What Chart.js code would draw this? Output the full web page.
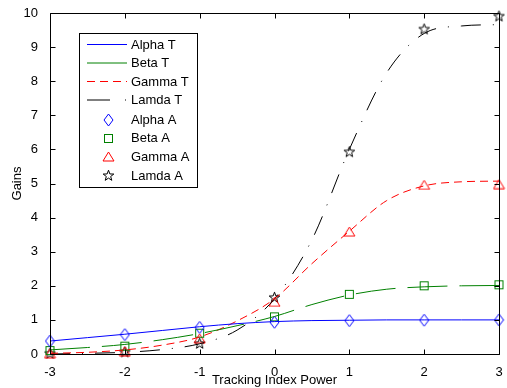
<!DOCTYPE html>
<html><head><meta charset="utf-8">
<script src="https://cdn.jsdelivr.net/npm/chart.js@4/dist/chart.umd.min.js"></script>
<style>html,body{margin:0;padding:0;background:#fff}#w{width:507px;height:388px}</style>
</head><body><div id="w"><canvas id="c" width="507" height="388"></canvas></div>
<script>
// ---- data ----
const tX = [-3,-2.5,-2,-1.5,-1,-0.5,0,0.5,1,1.5,2,2.5,3];
const alphaT = [0.38,0.48,0.58,0.69,0.80,0.89,0.95,0.98,0.99,1.00,1.00,1.00,1.00];
const betaT  = [0.12,0.19,0.28,0.42,0.60,0.83,1.10,1.45,1.73,1.90,1.97,2.00,2.01];
const gammaT = [0.02,0.05,0.12,0.26,0.50,0.97,1.62,2.65,3.60,4.50,4.93,5.05,5.07];
const lamdaT = [0.00,0.02,0.05,0.13,0.30,0.70,1.62,3.35,6.00,8.25,9.40,9.62,9.66];
const aX = [-3,-2,-1,0,1,2,3];
const alphaA = [0.38,0.57,0.78,0.93,0.98,0.99,1.00];
const betaA  = [0.10,0.23,0.61,1.09,1.75,2.00,2.03];
const gammaA = [0.02,0.08,0.46,1.53,3.59,4.96,4.98];
const lamdaA = [0.02,0.06,0.31,1.66,5.93,9.53,9.91];
const xTicks = [-3,-2,-1,0,1,2,3];
const yTicks = [0,1,2,3,4,5,6,7,8,9,10];
const legendLabels = ['Alpha T','Beta T','Gamma T','Lamda T','Alpha A','Beta A','Gamma A','Lamda A'];

const FONT = '"Liberation Sans", Arial, sans-serif';
function pts(xs, ys){ return xs.map((x,i)=>({x:x,y:ys[i]})); }

function mk(w,h,draw){ const c=document.createElement('canvas'); c.width=w; c.height=h; const g=c.getContext('2d'); g.lineWidth=1; draw(g); return c; }
const diamond = mk(11,14,g=>{g.strokeStyle='#0000ff';g.beginPath();g.moveTo(5.5,1);g.lineTo(10,7);g.lineTo(5.5,13);g.lineTo(1,7);g.closePath();g.stroke();});
const square = mk(11,11,g=>{g.strokeStyle='#008000';g.strokeRect(1.5,1.5,8,8);});
const tri = mk(13,11,g=>{g.strokeStyle='#ff0000';g.beginPath();g.moveTo(6.5,1);g.lineTo(12,10);g.lineTo(1,10);g.closePath();g.stroke();});
const star = mk(13,13,g=>{g.strokeStyle='#000';g.beginPath();for(let i=0;i<10;i++){const r=i%2?2.3:5.6;const a=-Math.PI/2+i*Math.PI/5;const X=6.5+r*Math.cos(a),Y=6.8+r*Math.sin(a);i?g.lineTo(X,Y):g.moveTo(X,Y);}g.closePath();g.stroke();});

function lineDs(d,color,dash){return {type:'line',data:d,borderColor:color,borderWidth:1,borderDash:dash,pointRadius:0,cubicInterpolationMode:'monotone',fill:false,clip:false};}
function mkDs(d,style){return {type:'line',data:d,showLine:false,pointStyle:style,pointRadius:6,borderColor:'transparent',backgroundColor:'transparent',clip:false};}

const frame = {
  id:'frame',
  afterDatasetsDraw(chart){
    const {ctx, chartArea:a, scales:{x,y}} = chart;
    ctx.save(); ctx.strokeStyle='#000'; ctx.lineWidth=1;
    const L=Math.round(a.left)+0.5, R=Math.round(a.right)+0.5, T=Math.round(a.top)+0.5, B=Math.round(a.bottom)+0.5;
    ctx.beginPath(); ctx.rect(L,T,R-L,B-T); ctx.stroke();
    ctx.beginPath();
    xTicks.forEach(v=>{const p=Math.round(x.getPixelForValue(v))+0.5; ctx.moveTo(p,B); ctx.lineTo(p,B-5); ctx.moveTo(p,T); ctx.lineTo(p,T+5);});
    yTicks.forEach(v=>{const p=Math.round(y.getPixelForValue(v))+0.5; ctx.moveTo(L,p); ctx.lineTo(L+5,p); ctx.moveTo(R,p); ctx.lineTo(R-5,p);});
    ctx.stroke();
    // legend
    const bx=79.5, by=33.5, bw=118, bh=154;
    ctx.fillStyle='#fff'; ctx.fillRect(bx,by,bw,bh); ctx.strokeRect(bx,by,bw,bh);
    const rows=[44.5,63,81.5,100,119.5,138,156.5,175.5];
    ctx.font='13px '+FONT; ctx.fillStyle='#000'; ctx.textBaseline='middle'; ctx.textAlign='left';
    legendLabels.forEach((t,i)=>ctx.fillText(t,131,rows[i]+0.5));
    const seg=(col,dash,yy)=>{ctx.save();ctx.strokeStyle=col;ctx.setLineDash(dash);ctx.beginPath();ctx.moveTo(87,yy);ctx.lineTo(127,yy);ctx.stroke();ctx.restore();};
    seg('#0000ff',[],rows[0]); seg('#008000',[],rows[1]); seg('#ff0000',[8,5],rows[2]); seg('#000',[23,15,1,15],rows[3]);
    [diamond,square,tri,star].forEach((im,i)=>ctx.drawImage(im,Math.round(108-im.width/2),Math.round(rows[4+i]-im.height/2)));
    ctx.restore();
  }
};

new Chart(document.getElementById('c'), {
  type:'line',
  data:{datasets:[
    lineDs(pts(tX,alphaT),'#0000ff',[]),
    lineDs(pts(tX,betaT),'#008000',[40,12]),
    lineDs(pts(tX,gammaT),'#ff0000',[8,5]),
    lineDs(pts(tX,lamdaT),'#000000',[20,12,1,12]),
    mkDs(pts(aX,alphaA),diamond),
    mkDs(pts(aX,betaA),square),
    mkDs(pts(aX,gammaA),tri),
    mkDs(pts(aX,lamdaA),star)
  ]},
  options:{
    responsive:false, animation:false, devicePixelRatio:1,
    layout:{padding:{top:13,right:8,left:0,bottom:0}},
    plugins:{legend:{display:false},tooltip:{enabled:false}},
    scales:{
      x:{type:'linear',min:-3,max:3,afterFit(s){s.height=34;},
         grid:{display:false},border:{display:false},
         afterBuildTicks(s){s.ticks=xTicks.map(v=>({value:v}));},
         ticks:{color:'#000',font:{family:FONT,size:13},padding:3,maxRotation:0},
         title:{display:true,text:'Tracking Index Power',color:'#000',font:{family:FONT,size:13},padding:0}},
      y:{type:'linear',min:0,max:10,afterFit(s){s.width=50;},
         grid:{display:false},border:{display:false},
         afterBuildTicks(s){s.ticks=yTicks.map(v=>({value:v}));},
         ticks:{color:'#000',font:{family:FONT,size:13},padding:4},
         title:{display:true,text:'Gains',color:'#000',font:{family:FONT,size:13},padding:{top:10,bottom:0}}}
    }
  },
  plugins:[frame]
});
</script></body></html>
